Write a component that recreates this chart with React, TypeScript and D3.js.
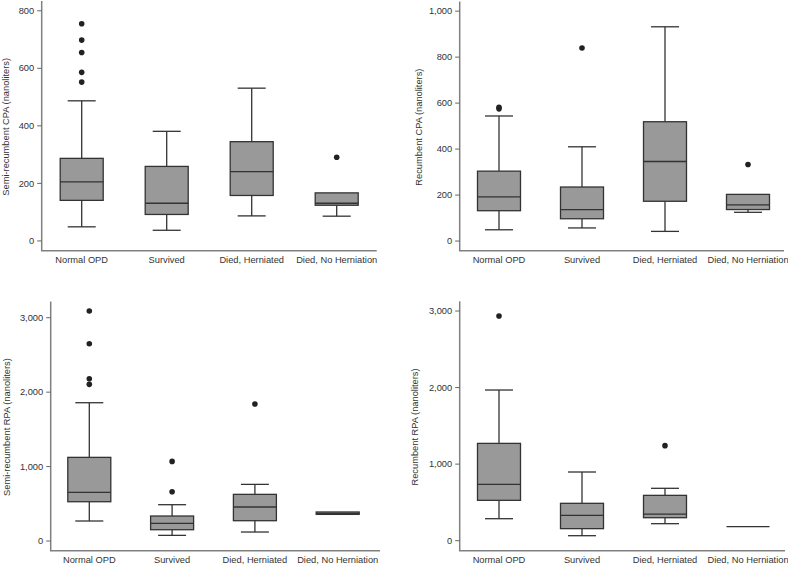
import React from "react";
import * as d3 from "d3";

const categories = ["Normal OPD", "Survived", "Died, Herniated", "Died, No Herniation"];

// Panel 1: Semi-recumbent CPA
const p1Title = "Semi-recumbent CPA (nanoliters)";
const p1Ticks = [0, 200, 400, 600, 800];
const p1Lower = [49, 37, 87, 86];
const p1Q1 = [141, 92, 158, 124];
const p1Median = [205, 131, 241, 131];
const p1Q3 = [287, 259, 345, 167];
const p1Upper = [487, 381, 531, 167];
const p1Outliers = [[552, 586, 655, 698, 755], [], [], [291]];

// Panel 2: Recumbent CPA
const p2Title = "Recumbent CPA (nanoliters)";
const p2Ticks = [0, 200, 400, 600, 800, 1000];
const p2Lower = [49, 57, 42, 125];
const p2Q1 = [132, 97, 173, 137];
const p2Median = [192, 137, 346, 157];
const p2Q3 = [304, 235, 519, 203];
const p2Upper = [544, 410, 932, 203];
const p2Outliers = [[575, 582], [840], [], [333]];

// Panel 3: Semi-recumbent RPA
const p3Title = "Semi-recumbent RPA (nanoliters)";
const p3Ticks = [0, 1000, 2000, 3000];
const p3Lower = [269, 76, 121, 358];
const p3Q1 = [528, 152, 273, 358];
const p3Median = [654, 237, 457, 372];
const p3Q3 = [1124, 336, 627, 390];
const p3Upper = [1858, 488, 761, 390];
const p3Outliers = [[2105, 2181, 2651, 3090], [663, 1070], [1840], []];

// Panel 4: Recumbent RPA
const p4Title = "Recumbent RPA (nanoliters)";
const p4Ticks = [0, 1000, 2000, 3000];
const p4Lower = [287, 65, 222, 183];
const p4Q1 = [527, 157, 300, 183];
const p4Median = [736, 331, 348, 183];
const p4Q3 = [1271, 488, 592, 183];
const p4Upper = [1968, 897, 684, 183];
const p4Outliers = [[2935], [], [1241], []];

const panels = [
  { title: p1Title, ticks: p1Ticks, lower: p1Lower, q1: p1Q1, median: p1Median, q3: p1Q3, upper: p1Upper, outliers: p1Outliers,
    axisX: 41.7, axisRight: 376.7, top: 1, bottom: 250.7, c0: 81.7, c1: 336.7, domain: [-34, 834], titleX: 9 },
  { title: p2Title, ticks: p2Ticks, lower: p2Lower, q1: p2Q1, median: p2Median, q3: p2Q3, upper: p2Upper, outliers: p2Outliers,
    axisX: 459.7, axisRight: 784, top: 1.5, bottom: 250.7, c0: 499, c1: 748, domain: [-42, 1042], titleX: 421.5 },
  { title: p3Title, ticks: p3Ticks, lower: p3Lower, q1: p3Q1, median: p3Median, q3: p3Q3, upper: p3Upper, outliers: p3Outliers,
    axisX: 50.7, axisRight: 380, top: 301.5, bottom: 550.7, c0: 89.3, c1: 337.7, domain: [-130, 3218], titleX: 9.5 },
  { title: p4Title, ticks: p4Ticks, lower: p4Lower, q1: p4Q1, median: p4Median, q3: p4Q3, upper: p4Upper, outliers: p4Outliers,
    axisX: 459.7, axisRight: 785, top: 301.3, bottom: 550.7, c0: 499, c1: 748, domain: [-131, 3127], titleX: 418 },
];

const FONT = "'Liberation Sans', Arial, Helvetica, sans-serif";
const FS = 9.3;
const BOX_W = 43;
const CAP_W = 28;
const fmt = d3.format(",");

function Panel({ p }: { p: any }) {
  const y = d3.scaleLinear().domain(p.domain).range([p.bottom, p.top]);
  const x = d3.scalePoint<string>().domain(categories).range([p.c0, p.c1]);
  const stroke = "#333";
  return (
    <g>
      {/* axes */}
      <line x1={p.axisX} x2={p.axisX} y1={p.top} y2={p.bottom} stroke="#808080" strokeWidth={1.5} />
      <line x1={p.axisX - 0.75} x2={p.axisRight} y1={p.bottom} y2={p.bottom} stroke="#808080" strokeWidth={1.5} />
      {p.ticks.map((t: number) => (
        <g key={t}>
          <line x1={p.axisX - 4.5} x2={p.axisX} y1={y(t)} y2={y(t)} stroke="#666" strokeWidth={1} />
          <text x={p.axisX - 7.5} y={y(t)} dy="0.34em" textAnchor="end" fontSize={FS} fontFamily={FONT} fill="#333">
            {fmt(t)}
          </text>
        </g>
      ))}
      <text
        transform={`translate(${p.titleX},${(p.top + p.bottom) / 2 + 1}) rotate(-90)`}
        textAnchor="middle"
        fontSize={FS}
        fontFamily={FONT}
        fill="#333"
      >
        {p.title}
      </text>
      {categories.map((c, i) => {
        const cx = x(c) as number;
        const lo = p.lower[i], q1 = p.q1[i], med = p.median[i], q3 = p.q3[i], hi = p.upper[i];
        return (
          <g key={c}>
            {hi > q3 && (
              <>
                <line x1={cx} x2={cx} y1={y(q3)} y2={y(hi)} stroke={stroke} strokeWidth={1.3} />
                <line x1={cx - CAP_W / 2} x2={cx + CAP_W / 2} y1={y(hi)} y2={y(hi)} stroke={stroke} strokeWidth={1.3} />
              </>
            )}
            {lo < q1 && (
              <>
                <line x1={cx} x2={cx} y1={y(q1)} y2={y(lo)} stroke={stroke} strokeWidth={1.3} />
                <line x1={cx - CAP_W / 2} x2={cx + CAP_W / 2} y1={y(lo)} y2={y(lo)} stroke={stroke} strokeWidth={1.3} />
              </>
            )}
            {q3 > q1 ? (
              <rect
                x={cx - BOX_W / 2}
                width={BOX_W}
                y={y(q3)}
                height={y(q1) - y(q3)}
                fill="#999"
                stroke={stroke}
                strokeWidth={1.3}
              />
            ) : null}
            <line x1={cx - BOX_W / 2} x2={cx + BOX_W / 2} y1={y(med)} y2={y(med)} stroke={stroke} strokeWidth={1.3} />
            {p.outliers[i].map((v: number, k: number) => (
              <circle key={k} cx={cx} cy={y(v)} r={2.8} fill="#222" />
            ))}
            <text x={cx} y={p.bottom + 12.5} textAnchor="middle" fontSize={FS} fontFamily={FONT} fill="#333">
              {c}
            </text>
          </g>
        );
      })}
    </g>
  );
}

export default function App() {
  return (
    <svg
      width={788}
      height={566}
      style={{ position: "absolute", left: 0, top: 0, background: "#fff" }}
    >
      <rect width={788} height={566} fill="#fff" />
      {panels.map((p, i) => (
        <Panel key={i} p={p} />
      ))}
    </svg>
  );
}
